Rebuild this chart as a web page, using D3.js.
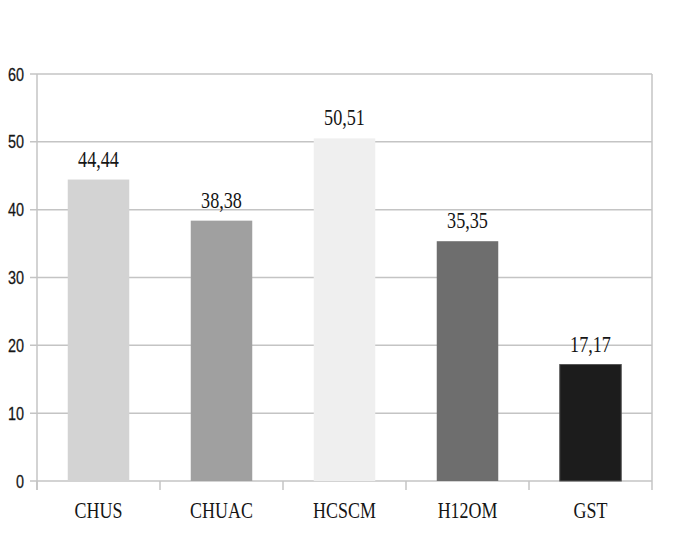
<!DOCTYPE html>
<html>
<head>
<meta charset="utf-8">
<script src="https://cdn.jsdelivr.net/npm/d3@7"></script>
<style>
  html, body { margin: 0; padding: 0; background: #fff; }
  svg { display: block; }
</style>
</head>
<body>
<svg id="chart" width="675" height="560"></svg>
<script>
// Hospital categories and their percentages
const categories = ["CHUS", "CHUAC", "HCSCM", "H12OM", "GST"];
const values = [44.44, 38.38, 50.51, 35.35, 17.17];
const barColors = ["#d3d3d3", "#a0a0a0", "#efefef", "#6e6e6e", "#1c1c1c"];
const yTicks = [0, 10, 20, 30, 40, 50, 60];

const svg = d3.select("#chart");
const plotLeft = 37, plotRight = 652, plotTop = 74, plotBottom = 481;
const gridColor = "#c4c4c4";

const x = d3.scaleBand().domain(categories).range([plotLeft, plotRight]).paddingInner(0.5).paddingOuter(0.25);
const y = d3.scaleLinear().domain([0, 60]).range([plotBottom, plotTop]);

const fmt = v => v.toFixed(2).replace(".", ",");

// Horizontal gridlines with tick stubs on the left
svg.append("g").selectAll("line").data(yTicks).join("line")
  .attr("x1", plotLeft - 7).attr("x2", plotRight)
  .attr("y1", d => y(d)).attr("y2", d => y(d))
  .attr("stroke", gridColor).attr("stroke-width", 1.5);

// Value axis line
svg.append("line").attr("x1", plotLeft).attr("x2", plotLeft).attr("y1", plotTop).attr("y2", plotBottom + 9)
  .attr("stroke", gridColor).attr("stroke-width", 1.5);

// Category separators below the baseline, and right border
const bounds = d3.range(categories.length + 1).map(i => plotLeft + i * (plotRight - plotLeft) / categories.length);
svg.append("g").selectAll("line").data(bounds).join("line")
  .attr("x1", d => d).attr("x2", d => d)
  .attr("y1", (d, i) => i === categories.length ? plotTop : plotBottom)
  .attr("y2", plotBottom + 9)
  .attr("stroke", gridColor).attr("stroke-width", 1.5);

// Y tick labels
svg.append("g").selectAll("text").data(yTicks).join("text")
  .attr("transform", d => `translate(24,${y(d) + 6.5}) scale(0.8,1)`)
  .attr("text-anchor", "end")
  .attr("font-family", "Liberation Sans, Arial, sans-serif")
  .attr("font-size", 18)
  .attr("fill", "#151515")
  .attr("stroke", "#151515").attr("stroke-width", 0.25)
  .text(d => d);

// Bars
svg.append("g").selectAll("rect").data(values).join("rect")
  .attr("x", (d, i) => x(categories[i]))
  .attr("width", x.bandwidth())
  .attr("y", d => y(d))
  .attr("height", d => plotBottom - y(d))
  .attr("fill", (d, i) => barColors[i])
  .attr("stroke", (d, i) => i === 4 ? "#555" : "none")
  .attr("stroke-width", 1);

// Value labels above bars
svg.append("g").selectAll("text").data(values).join("text")
  .attr("transform", (d, i) => `translate(${x(categories[i]) + x.bandwidth() / 2},${y(d) - 13}) scale(0.79,1)`)
  .attr("text-anchor", "middle")
  .attr("font-family", "Liberation Serif, Times New Roman, serif")
  .attr("font-size", 23)
  .attr("fill", "#151515")
  .text(d => fmt(d));

// Category labels
svg.append("g").selectAll("text").data(categories).join("text")
  .attr("transform", d => `translate(${x(d) + x.bandwidth() / 2},${plotBottom + 37}) scale(0.78,1)`)
  .attr("text-anchor", "middle")
  .attr("font-family", "Liberation Serif, Times New Roman, serif")
  .attr("font-size", 23)
  .attr("fill", "#151515")
  .text(d => d);
</script>
</body>
</html>
